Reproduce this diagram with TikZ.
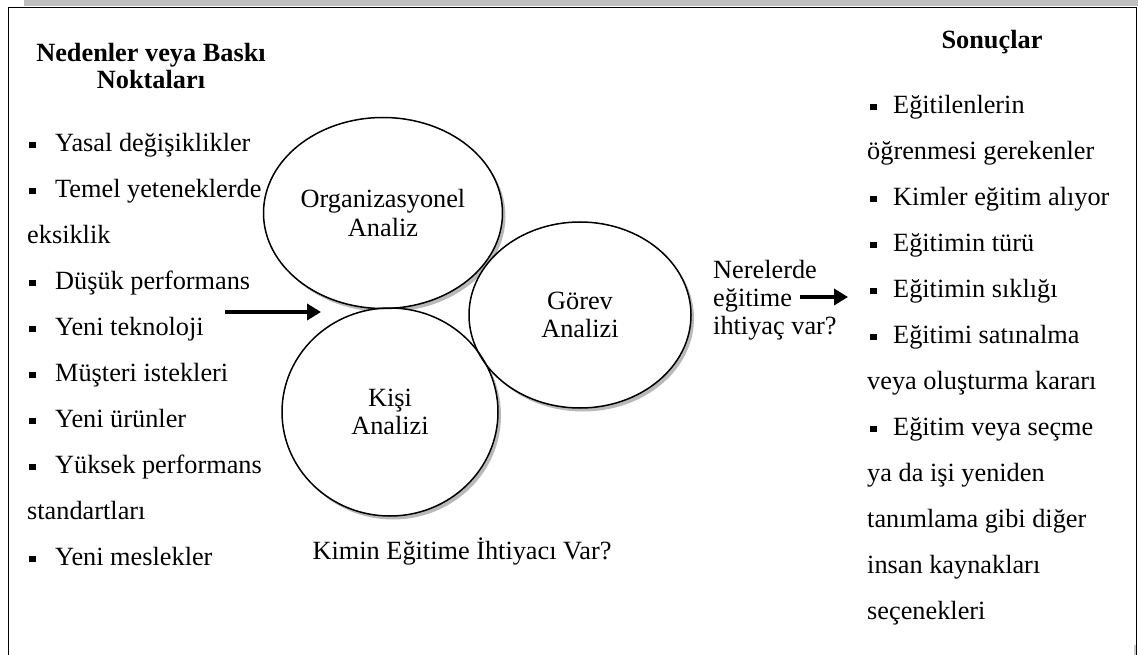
\documentclass[tikz,border=0pt]{standalone}
\usepackage{fontspec}
\setmainfont{Liberation Serif}
\usetikzlibrary{arrows.meta,shapes.geometric}

% bullet box used in the two lists
\newcommand{\lbul}{\makebox[26pt][l]{\rule[2.8pt]{6.5pt}{6.5pt}}}
\newcommand{\rbul}{\makebox[23pt][l]{\rule[2.8pt]{6.5pt}{6.5pt}}}

\begin{document}
\begin{tikzpicture}[x=1pt,y=-1pt,
  txt/.style={font=\fontsize{26.3}{28}\selectfont, inner sep=0pt, anchor=mid west},
  head/.style={font=\fontsize{26.3}{27}\selectfont\bfseries, inner sep=0pt, align=center},
  ovalbase/.style={ellipse, inner sep=0pt},
  oval/.style={ovalbase, draw=black, line width=1.5pt,
    font=\fontsize{26.3}{28.5}\selectfont, align=center},
  ovalfill/.style={ovalbase, fill=white},
  ovalshadow/.style={ovalbase, fill=gray!55},
  bigarrow/.style={line width=4.6pt, -{Triangle[length=14pt,width=16pt]}}
]
\useasboundingbox (0,0) rectangle (1138,655);

% frame
\fill[gray!50] (24,0) rectangle (1138,6);
\fill[gray!40] (1133.5,645) rectangle (1135.5,655);
\draw[line width=1.7pt] (8.5,660) -- (8.5,7.5) -- (1136.5,7.5) -- (1136.5,660);

% headings
\node[head] (causes) at (151,66.5) {Nedenler veya Baskı\\Noktaları};
\node[head] (results) at (992,42) {Sonuçlar};

% causes list
\node[txt] (c1)  at (29,149) {\lbul Yasal değişiklikler};
\node[txt] (c2)  at (29,195) {\lbul Temel yeteneklerde};
\node[txt] (c2b) at (27,241) {eksiklik};
\node[txt] (c3)  at (29,287) {\lbul Düşük performans};
\node[txt] (c4)  at (29,333) {\lbul Yeni teknoloji};
\node[txt] (c5)  at (29,379) {\lbul Müşteri istekleri};
\node[txt] (c6)  at (29,425) {\lbul Yeni ürünler};
\node[txt] (c7)  at (29,471) {\lbul Yüksek performans};
\node[txt] (c7b) at (27,517) {standartları};
\node[txt] (c8)  at (29,563) {\lbul Yeni meslekler};

% results list
\node[txt] (r1)  at (870,111) {\rbul Eğitilenlerin};
\node[txt] (r1b) at (867,157) {öğrenmesi gerekenler};
\node[txt] (r2)  at (870,203) {\rbul Kimler eğitim alıyor};
\node[txt] (r3)  at (870,249) {\rbul Eğitimin türü};
\node[txt] (r4)  at (870,295) {\rbul Eğitimin sıklığı};
\node[txt] (r5)  at (870,341) {\rbul Eğitimi satınalma};
\node[txt] (r5b) at (867,387) {veya oluşturma kararı};
\node[txt] (r6)  at (870,433) {\rbul Eğitim veya seçme};
\node[txt] (r6b) at (867,479) {ya da işi yeniden};
\node[txt] (r6c) at (867,525) {tanımlama gibi diğer};
\node[txt] (r6d) at (867,571) {insan kaynakları};
\node[txt] (r6e) at (867,617) {seçenekleri};

% shadows of the three analyses
\node[ovalshadow, minimum width=239pt, minimum height=191pt] (orgsh) at (386,216.5) {};
\node[ovalshadow, minimum width=216pt, minimum height=208pt] (kisish) at (393,415.5) {};
\node[ovalshadow, minimum width=222pt, minimum height=186pt] (gorsh) at (583,318.5) {};

% white faces
\node[ovalfill, minimum width=239pt, minimum height=191pt] (orgbg) at (383,213) {};
\node[ovalfill, minimum width=216pt, minimum height=208pt] (kisibg) at (390,412) {};
\node[ovalfill, minimum width=222pt, minimum height=186pt] (gorbg) at (580,315) {};

% the three analyses
\node[oval, minimum width=239pt, minimum height=191pt] (org) at (383,213) {Organizasyonel\\Analiz};
\node[oval, minimum width=216pt, minimum height=208pt] (kisi) at (390,412) {Kişi\\Analizi};
\node[oval, minimum width=222pt, minimum height=186pt] (gorev) at (580,315) {Görev\\Analizi};

% question texts
\node[txt, anchor=west, align=left, font=\fontsize{26.3}{28}\selectfont] (where) at (713,300) {Nerelerde\\eğitime\\ihtiyaç var?};
\node[txt, anchor=mid] (who) at (462,557) {Kimin Eğitime İhtiyacı Var?};

% arrows
\coordinate (la) at (225,312);
\coordinate (lb) at (321,312);
\coordinate (ra) at (800,297);
\coordinate (rb) at (848,297);
\draw[bigarrow] (la) -- (lb);
\draw[bigarrow, line width=4.2pt] (ra) -- (rb);
\end{tikzpicture}
\end{document}
